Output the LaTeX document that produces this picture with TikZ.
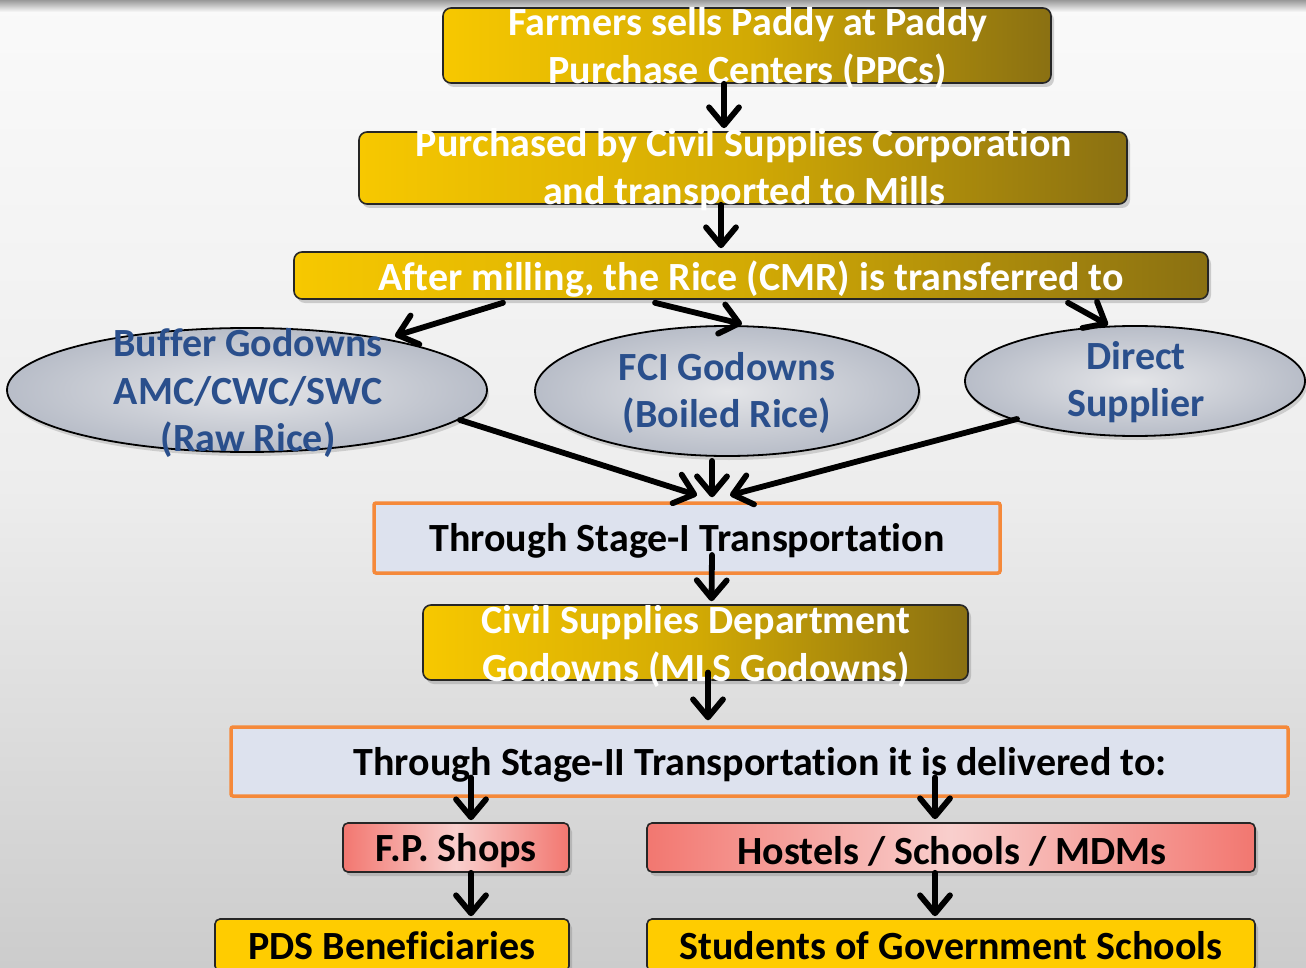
\documentclass[tikz,border=0pt]{standalone}
\usepackage{fontspec}
\setmainfont{Carlito}[Ligatures={NoCommon,NoContextual}, Contextuals=NoAlternate]
\usetikzlibrary{arrows.meta,shapes.geometric,shadows,calc}
\definecolor{goldL}{HTML}{F7C800}
\definecolor{goldM}{HTML}{D2AA04}
\definecolor{goldR}{HTML}{8A7012}
\definecolor{bluetxt}{HTML}{2A4F8C}
\definecolor{stagefill}{HTML}{DDE2EE}
\definecolor{stageedge}{HTML}{F5893A}
\definecolor{pinkE}{HTML}{F27770}
\definecolor{pinkM}{HTML}{F9CFCD}
\definecolor{yel}{HTML}{FFCC00}
\definecolor{ellO}{HTML}{B8BDC8}
\definecolor{ellI}{HTML}{E4E5E8}
\newcommand{\tiNL}{t\kern0pt i}
\tikzset{
  goldbox/.style={draw=black!85, line width=1.6pt, rounded corners=8pt, left color=goldL, right color=goldR, middle color=goldM, inner sep=0pt,
    drop shadow={shadow xshift=3pt, shadow yshift=-4pt, opacity=0.35}},
  whitetxt/.style={text=white, font=\bfseries\fontsize{40}{48}\selectfont, align=center, inner sep=0pt},
  ell/.style={ellipse, draw=black, line width=1.8pt, inner color=ellI, outer color=ellO, inner sep=0pt,
    drop shadow={shadow xshift=2pt, shadow yshift=-4pt, opacity=0.3}},
  bluetext/.style={text=bluetxt, font=\bfseries\fontsize{40}{47.5}\selectfont, align=center, inner sep=0pt},
  stagebox/.style={draw=stageedge, line width=3.5pt, fill=stagefill, rounded corners=2pt, inner sep=0pt},
  blacktxt/.style={text=black, font=\bfseries\fontsize{40}{48}\selectfont, inner sep=0pt},
  pinkbox/.style={draw=black!85, line width=1.6pt, rounded corners=5pt, left color=pinkE, right color=pinkE, middle color=pinkM, inner sep=0pt,
    drop shadow={shadow xshift=3pt, shadow yshift=-4pt, opacity=0.35}},
  yelbox/.style={draw=black!85, line width=1.6pt, rounded corners=5pt, fill=yel, inner sep=0pt,
    drop shadow={shadow xshift=3pt, shadow yshift=-4pt, opacity=0.35}},
  arr/.style={line width=5.8pt, line cap=round, -{Straight Barb[length=18pt,width=30pt,line cap=round,line join=round]}},
}
\begin{document}
\begin{tikzpicture}[x=1pt,y=-1pt]
\useasboundingbox (0,0) rectangle (1306,968);
% background
\shade[top color=white!98!black, bottom color=black!20, middle color=black!7] (0,0) rectangle (1306,968);
\shade[top color=black!40, bottom color=white!98!black] (0,0) rectangle (1306,12);

% top boxes
\node[goldbox, minimum width=608pt, minimum height=75pt] (b1) at (747,45.5) {};
\node[whitetxt] (b1t) at (748,48) {Farmers sells Paddy at Paddy\\Purchase Centers (PPCs)};
\node[goldbox, minimum width=768pt, minimum height=72pt] (b2) at (743,168) {};
\node[whitetxt] (b2t) at (744,170) {Purchased by Civil Supplies Corporation\\and transported to Mills};
\node[goldbox, minimum width=914pt, minimum height=47pt] (b3) at (751,275.5) {};
\node[whitetxt] (b3t) at (751,279) {After milling, the Rice (CMR) is transferred to};

% ellipses
\node[ell, minimum width=480pt, minimum height=124pt] (e1) at (247,390) {};
\node[bluetext] (e1t) at (248,393) {Buffer Godowns\\AMC/CWC/SWC\\(Raw Rice)};
\node[ell, minimum width=384pt, minimum height=130pt] (e2) at (727,391) {};
\node[bluetext] (e2t) at (727,393) {FCI Godowns\\(Boiled Rice)};
\node[ell, minimum width=340pt, minimum height=110pt] (e3) at (1135,381) {};
\node[bluetext] (e3t) at (1136,382) {Direct\\Supplier};

% stage I
\node[stagebox, minimum width=626pt, minimum height=70pt] (s1) at (687,538) {};
\node[blacktxt] (s1t) at (687,541) {Through Stage-I Transporta\tiNL on};

% civil supplies
\node[goldbox, minimum width=545pt, minimum height=75pt] (c1) at (695.5,642.5) {};
\node[whitetxt] (c1t) at (696,646) {Civil Supplies Department\\Godowns (MLS Godowns)};

% stage II
\node[stagebox, minimum width=1057pt, minimum height=69pt] (s2) at (759.5,761.5) {};
\node[blacktxt] (s2t) at (760,765) {Through Stage-II Transporta\tiNL on it is delivered to:};

% bottom
\node[pinkbox, minimum width=226pt, minimum height=49pt] (fp) at (456,847.5) {};
\node[blacktxt] (fpt) at (456,851) {F.P. Shops};
\node[pinkbox, minimum width=608pt, minimum height=49pt] (ho) at (951,847.5) {};
\node[blacktxt] (hot) at (952,851) {Hostels / Schools / MDMs};
\node[yelbox, minimum width=354pt, minimum height=52pt] (pds) at (392,945) {};
\node[blacktxt] (pdst) at (392,946) {PDS Beneficiaries};
\node[yelbox, minimum width=608pt, minimum height=52pt] (st) at (951,945) {};
\node[blacktxt] (stt) at (951,946) {Students of Government Schools};

% arrows
\draw[arr] ([shift={(-23,0)}]b1.south) -- ([shift={(-19,-3)}]b2.north);
\draw[arr] ([shift={(-22,0)}]b2.south) -- ([shift={(-30,-3)}]b3.north);
\draw[arr] ([shift={(-248,3)}]b3.south) -- ([shift={(148,-54)}]e1.center);
\draw[arr] ([shift={(-96,3)}]b3.south) -- ([shift={(15,-67)}]e2.center);
\draw[arr] ([shift={(317,3)}]b3.south) -- ([shift={(-27,-56)}]e3.center);
\draw[arr] ([shift={(213,30)}]e1.center) -- ([shift={(10,-6)}]s1.north);
\draw[arr] ([shift={(-15,4)}]e2.south) -- ([shift={(25,-4)}]s1.north);
\draw[arr] ([shift={(-118,38)}]e3.center) -- ([shift={(43,-6)}]s1.north);
\draw[arr] ([shift={(25,17)}]s1.center) -- ([shift={(16,-3)}]c1.north);
\draw[arr] ([shift={(12.5,30)}]c1.center) -- ([shift={(-51.5,-5)}]s2.north);
\draw[arr] ([shift={(-288.5,16)}]s2.center) -- ([shift={(15,-2)}]fp.north);
\draw[arr] ([shift={(175.5,16)}]s2.center) -- ([shift={(-16,-3)}]ho.north);
\draw[arr] ([shift={(15,0)}]fp.south) -- ([shift={(79,-2)}]pds.north);
\draw[arr] ([shift={(-16,0)}]ho.south) -- ([shift={(-16,-2)}]st.north);
\end{tikzpicture}
\end{document}
